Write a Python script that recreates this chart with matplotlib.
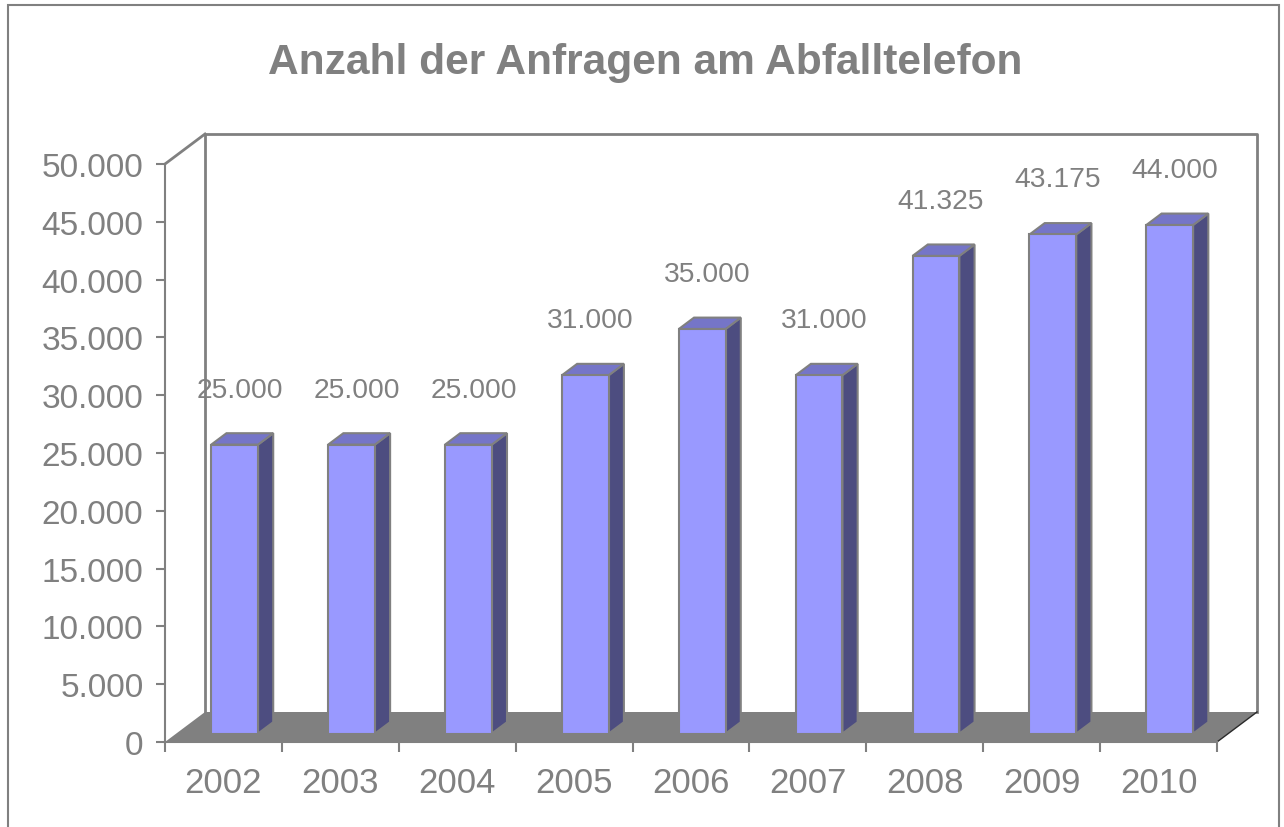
import matplotlib
matplotlib.use('Agg')
import matplotlib.pyplot as plt
from matplotlib.patches import Polygon, Rectangle
from matplotlib.ticker import FuncFormatter

# ---------------- data ----------------
years = ['2002', '2003', '2004', '2005', '2006', '2007', '2008', '2009', '2010']
values = [25000, 25000, 25000, 31000, 35000, 31000, 41325, 43175, 44000]
y_ticks = [0, 5000, 10000, 15000, 20000, 25000, 30000, 35000, 40000, 45000, 50000]
title = 'Anzahl der Anfragen am Abfalltelefon'

plt.rcParams['font.family'] = ['Liberation Sans', 'DejaVu Sans']

GRAY = '#808080'
FRONT = '#9999FF'
SIDE = '#4D4D80'
TOP = '#7575C8'


def de_fmt(v, pos=None):
    return f'{int(round(v)):,}'.replace(',', '.')


W, H = 1284, 828
fig = plt.figure(figsize=(W / 100, H / 100), dpi=100)

# plot-area geometry (pixels)
px_left, px_right, px_bottom, px_top = 165, 1257, 743, 134
px_front_right = 1217
px_ymax = 165
ncat = len(years)
ymax = y_ticks[-1]
px_per_cat = (px_front_right - px_left) / ncat
px_per_unit = (px_bottom - px_ymax) / ymax
depth_px = (40, 30)

ax = fig.add_axes([px_left / W, 1 - px_bottom / H,
                   (px_right - px_left) / W, (px_bottom - px_top) / H])
ax.set_xlim(0, (px_right - px_left) / px_per_cat)
ax.set_ylim(0, (px_bottom - px_top) / px_per_unit)
ax.patch.set_visible(False)

ddx = depth_px[0] / px_per_cat
ddy = depth_px[1] / px_per_unit

# floor
ax.add_patch(Polygon([(0, 0), (ncat, 0), (ncat + ddx, ddy), (ddx, ddy)],
                     closed=True, fc=GRAY, ec='none', zorder=1, clip_on=False))
ax.plot([ncat, ncat + ddx], [0, ddy], color='#2a2a2a', lw=1, zorder=2, clip_on=False)

# back walls
ax.plot([ddx, ddx, ncat + ddx, ncat + ddx],
        [ddy, ymax + ddy, ymax + ddy, ddy], color=GRAY, lw=2, zorder=1, clip_on=False)
ax.plot([0, ddx], [ymax, ymax + ddy], color=GRAY, lw=2, zorder=1, clip_on=False)

# bars
f0, f1 = 0.28, 0.66
bw = 0.40
bdx, bdy = (f1 - f0) * ddx, (f1 - f0) * ddy
for i, v in enumerate(values):
    x0 = i + 0.5 - bw / 2 + f0 * ddx
    x1 = x0 + bw
    yb = f0 * ddy
    yt = v + f0 * ddy
    ax.add_patch(Polygon([(x1, yb), (x1 + bdx, yb + bdy), (x1 + bdx, yt + bdy), (x1, yt)],
                         closed=True, fc=SIDE, ec=GRAY, lw=1.5, zorder=3, clip_on=False))
    ax.add_patch(Polygon([(x0, yt), (x1, yt), (x1 + bdx, yt + bdy), (x0 + bdx, yt + bdy)],
                         closed=True, fc=TOP, ec=GRAY, lw=1.5, zorder=3, clip_on=False))
    ax.add_patch(Rectangle((x0, yb), bw, v, fc=FRONT, ec=GRAY, lw=1.5, zorder=4, clip_on=False))
    ax.text(i + 0.5 + f0 * ddx + 5 / px_per_cat, yt + 55 / px_per_unit, de_fmt(v),
            ha='center', va='center', fontsize=20.3, color=GRAY, zorder=5)

# axes / ticks
for s in ('top', 'right'):
    ax.spines[s].set_visible(False)
ax.spines['left'].set_bounds(0, ymax)
ax.spines['bottom'].set_bounds(0, ncat)
for s in ('left', 'bottom'):
    ax.spines[s].set_color(GRAY)
    ax.spines[s].set_linewidth(1.5)
    ax.spines[s].set_zorder(2)

ax.set_yticks(y_ticks)
ax.yaxis.set_major_formatter(FuncFormatter(de_fmt))
ax.tick_params(axis='y', length=6.5, width=1.5, color=GRAY, labelsize=24,
               labelcolor=GRAY, pad=9)

ax.set_xticks(range(ncat + 1))
ax.set_xticklabels([])
ax.set_xticks([i + 0.5 for i in range(ncat)], minor=True)
ax.set_xticklabels(years, minor=True)
ax.tick_params(axis='x', which='major', length=7.5, width=1.5, color=GRAY)
ax.tick_params(axis='x', which='minor', length=0, labelsize=25, labelcolor=GRAY, pad=17)

# title
fig.text(645 / W, 1 - 63 / H, title, ha='center', va='center', fontsize=30.6,
         fontweight='bold', color=GRAY)

# outer border
fig.add_artist(Rectangle((8 / W, -0.02), (1279 - 8) / W, 1 - 6 / H + 0.02,
                         transform=fig.transFigure, fill=False, ec=GRAY, lw=1.5,
                         clip_on=False))

fig.savefig('out.png', dpi=100)
